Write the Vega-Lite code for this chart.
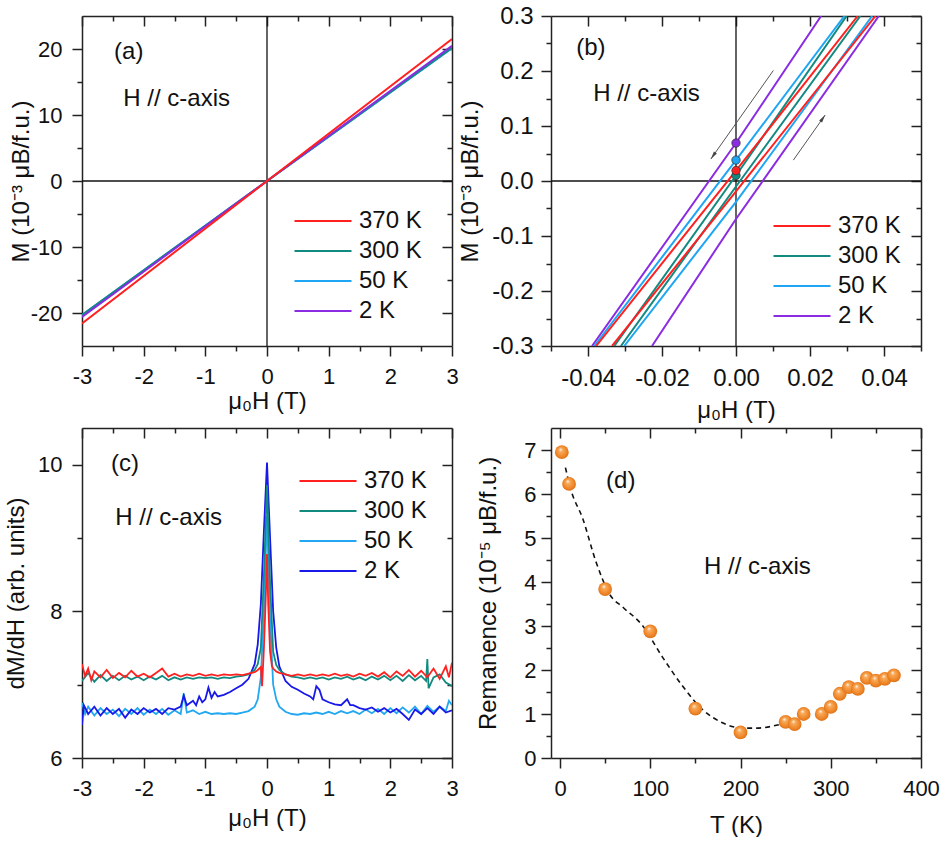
{
"$schema": "https://vega.github.io/schema/vega-lite/v6.json",
"padding": {"left": 4, "top": 4, "right": 0, "bottom": 0},
"config": {
  "font": "Liberation Sans",
  "view": {"stroke": null},
  "axis": {"labelFont": "Liberation Sans", "titleFont": "Liberation Sans", "labelFontSize": 22, "titleFontSize": 24, "titleFontWeight": "normal", "labelColor": "#111", "titleColor": "#111", "domainColor": "#222", "tickColor": "#222", "domainWidth": 1.5, "tickWidth": 1.5, "grid": false, "tickSize": 10, "labelPadding": 10, "labelFlush": false, "labelOverlap": false},
  "legend": {"symbolType": "stroke", "symbolSize": 3249, "symbolStrokeWidth": 2.2, "clipHeight": 24, "rowPadding": 6, "labelFontSize": 24, "labelFont": "Liberation Sans", "labelColor": "#111", "labelOffset": 6, "padding": 0},
  "text": {"font": "Liberation Sans", "fontSize": 24, "color": "#111"}
},
"bounds": "flush",
"columns": 2,
"spacing": {"row": 82, "column": 99},
"resolve": {"scale": {"color": "independent", "fill": "independent"}, "legend": {"color": "independent"}},
"concat": [
  {"width": 370, "height": 330,
   "layer": [
    {"data": {"values": [{}]}, "mark": {"type": "point", "opacity": 0},
     "encoding": {
      "x": {"datum": 0, "type": "quantitative", "axis": {"orient": "top", "values": [-3,-2,-1,0,1,2,3], "labels": false, "tickSize": -10, "title": null}},
      "y": {"datum": 0, "type": "quantitative", "axis": {"orient": "right", "values": [-20,-10,0,10,20], "labels": false, "tickSize": -10, "title": null}}}},
    {"data": {"values": [{}]}, "mark": {"type": "point", "opacity": 0},
     "encoding": {
      "x": {"datum": 0, "type": "quantitative", "axis": {"orient": "top", "values": [-2.5,-1.5,-0.5,0.5,1.5,2.5], "labels": false, "domain": false, "tickSize": -5, "title": null}},
      "y": {"datum": 0, "type": "quantitative", "axis": {"orient": "right", "values": [-15,-5,5,15], "labels": false, "domain": false, "tickSize": -5, "title": null}}}},
    {"data": {"values": [{}]}, "mark": {"type": "point", "opacity": 0},
     "encoding": {
      "x": {"datum": 0, "type": "quantitative", "axis": {"orient": "bottom", "values": [-2.5,-1.5,-0.5,0.5,1.5,2.5], "labels": false, "domain": false, "tickSize": 5, "title": null}},
      "y": {"datum": 0, "type": "quantitative", "axis": {"orient": "left", "values": [-15,-5,5,15], "labels": false, "domain": false, "tickSize": 5, "title": null}}}},
    {"data": {"values": [{}]}, "mark": {"type": "rule", "color": "#111", "strokeWidth": 1.3}, "encoding": {"x": {"datum": 0, "type": "quantitative", "axis": null}}},
    {"data": {"values": [{}]}, "mark": {"type": "rule", "color": "#111", "strokeWidth": 1.3}, "encoding": {"y": {"datum": 0, "type": "quantitative", "axis": null}}},
    {"data": {"values": [
      {"T": "50 K", "H": -3, "M": -20.3}, {"T": "50 K", "H": 0, "M": 0}, {"T": "50 K", "H": 3, "M": 20.1},
      {"T": "300 K", "H": -3, "M": -20.3}, {"T": "300 K", "H": 0, "M": 0}, {"T": "300 K", "H": 3, "M": 20.2},
      {"T": "2 K", "H": -3, "M": -20.6}, {"T": "2 K", "H": 0, "M": 0}, {"T": "2 K", "H": 3, "M": 20.5},
      {"T": "370 K", "H": -3, "M": -21.6}, {"T": "370 K", "H": 0, "M": 0}, {"T": "370 K", "H": 3, "M": 21.5}]},
     "mark": {"type": "line", "strokeWidth": 2, "clip": true},
     "encoding": {
      "x": {"field": "H", "type": "quantitative", "scale": {"domain": [-3, 3], "nice": false, "zero": false},
            "axis": {"orient": "bottom", "values": [-3,-2,-1,0,1,2,3], "title": "μ₀H (T)", "titlePadding": 2, "labelExpr": "replace(datum.label, '\u2212', '-')"}},
      "y": {"field": "M", "type": "quantitative", "scale": {"domain": [-25, 25], "nice": false, "zero": false},
            "axis": {"orient": "left", "values": [-20,-10,0,10,20], "title": "M (10⁻³ μB/f.u.)", "titlePadding": -3, "labelExpr": "replace(datum.label, '\u2212', '-')"}},
      "color": {"field": "T", "type": "nominal", "scale": {"domain": ["370 K", "300 K", "50 K", "2 K"], "range": ["#ff2020", "#138a80", "#1ea6f5", "#8b2be2"]},
                "legend": {"orient": "none", "legendX": 211, "legendY": 193, "title": null}}}},
    {"data": {"values": [{"x": -2.48, "y": 19.5, "label": "(a)"}, {"x": -2.33, "y": 12.4, "label": "H // c-axis"}]},
     "mark": {"type": "text", "align": "left", "baseline": "middle"},
     "encoding": {"x": {"field": "x", "type": "quantitative", "axis": null}, "y": {"field": "y", "type": "quantitative", "axis": null}, "text": {"field": "label"}}}
   ],
   "resolve": {"axis": {"x": "independent", "y": "independent"}}},
  {"width": 370, "height": 330,
   "layer": [
    {"data": {"values": [{}]}, "mark": {"type": "point", "opacity": 0},
     "encoding": {
      "x": {"datum": 0, "type": "quantitative", "axis": {"orient": "top", "values": [-0.04,-0.02,0,0.02,0.04], "labels": false, "tickSize": -10, "title": null}},
      "y": {"datum": 0, "type": "quantitative", "axis": {"orient": "right", "values": [-0.3,-0.2,-0.1,0,0.1,0.2,0.3], "labels": false, "tickSize": -10, "title": null}}}},
    {"data": {"values": [{}]}, "mark": {"type": "point", "opacity": 0},
     "encoding": {
      "x": {"datum": 0, "type": "quantitative", "axis": {"orient": "top", "values": [-0.03,-0.01,0.01,0.03], "labels": false, "domain": false, "tickSize": -5, "title": null}},
      "y": {"datum": 0, "type": "quantitative", "axis": {"orient": "right", "values": [-0.25,-0.15,-0.05,0.05,0.15,0.25], "labels": false, "domain": false, "tickSize": -5, "title": null}}}},
    {"data": {"values": [{}]}, "mark": {"type": "point", "opacity": 0},
     "encoding": {
      "x": {"datum": 0, "type": "quantitative", "axis": {"orient": "bottom", "values": [-0.05,-0.03,-0.01,0.01,0.03,0.05], "labels": false, "domain": false, "tickSize": 5, "title": null}},
      "y": {"datum": 0, "type": "quantitative", "axis": {"orient": "left", "values": [-0.25,-0.15,-0.05,0.05,0.15,0.25], "labels": false, "domain": false, "tickSize": 5, "title": null}}}},
    {"data": {"values": [{}]}, "mark": {"type": "rule", "color": "#111", "strokeWidth": 1.3}, "encoding": {"x": {"datum": 0, "type": "quantitative", "axis": null}}},
    {"data": {"values": [{}]}, "mark": {"type": "rule", "color": "#111", "strokeWidth": 1.3}, "encoding": {"y": {"datum": 0, "type": "quantitative", "axis": null}}},
    {"data": {"values": [
      {"T": "2 K", "br": "L", "H": -0.0389, "M": -0.3}, {"T": "2 K", "br": "L", "H": 0, "M": 0.069}, {"T": "2 K", "br": "L", "H": 0.023, "M": 0.3},
      {"T": "2 K", "br": "R", "H": -0.0227, "M": -0.3}, {"T": "2 K", "br": "R", "H": 0, "M": -0.069}, {"T": "2 K", "br": "R", "H": 0.0386, "M": 0.3},
      {"T": "50 K", "br": "L", "H": -0.0383, "M": -0.3}, {"T": "50 K", "br": "L", "H": 0, "M": 0.038}, {"T": "50 K", "br": "L", "H": 0.0293, "M": 0.3},
      {"T": "50 K", "br": "R", "H": -0.0302, "M": -0.3}, {"T": "50 K", "br": "R", "H": 0, "M": -0.038}, {"T": "50 K", "br": "R", "H": 0.0368, "M": 0.3},
      {"T": "300 K", "br": "L", "H": -0.0329, "M": -0.3}, {"T": "300 K", "br": "L", "H": 0, "M": 0.010}, {"T": "300 K", "br": "L", "H": 0.0299, "M": 0.3},
      {"T": "300 K", "br": "R", "H": -0.0311, "M": -0.3}, {"T": "300 K", "br": "R", "H": 0, "M": -0.010}, {"T": "300 K", "br": "R", "H": 0.0336, "M": 0.3},
      {"T": "370 K", "br": "L", "H": -0.0378, "M": -0.3}, {"T": "370 K", "br": "L", "H": 0, "M": 0.019}, {"T": "370 K", "br": "L", "H": 0.0329, "M": 0.3},
      {"T": "370 K", "br": "R", "H": -0.0335, "M": -0.3}, {"T": "370 K", "br": "R", "H": 0, "M": -0.019}, {"T": "370 K", "br": "R", "H": 0.0377, "M": 0.3}]},
     "mark": {"type": "line", "strokeWidth": 2, "clip": true},
     "encoding": {
      "x": {"field": "H", "type": "quantitative", "scale": {"domain": [-0.05, 0.05], "nice": false, "zero": false},
            "axis": {"orient": "bottom", "values": [-0.04,-0.02,0,0.02,0.04], "format": ".2f", "labelFontSize": 24, "title": "μ₀H (T)", "titlePadding": 8, "labelExpr": "replace(datum.label, '\u2212', '-')"}},
      "y": {"field": "M", "type": "quantitative", "scale": {"domain": [-0.3, 0.3], "nice": false, "zero": false},
            "axis": {"orient": "left", "values": [-0.3,-0.2,-0.1,0,0.1,0.2,0.3], "format": ".1f", "labelFontSize": 24, "labelPadding": 8, "title": "M (10⁻³ μB/f.u.)", "titlePadding": 9, "labelExpr": "replace(datum.label, '\u2212', '-')"}},
      "color": {"field": "T", "type": "nominal", "scale": {"domain": ["370 K", "300 K", "50 K", "2 K"], "range": ["#ff2020", "#138a80", "#1ea6f5", "#8b2be2"]},
                "legend": {"orient": "none", "legendX": 221, "legendY": 198, "title": null}},
      "detail": {"field": "br"}}},
    {"data": {"values": [{"a": "1", "H": 0.0101, "M": 0.201}, {"a": "1", "H": -0.0068, "M": 0.040}, {"a": "2", "H": 0.0155, "M": 0.038}, {"a": "2", "H": 0.0241, "M": 0.120}]},
     "mark": {"type": "line", "color": "#555", "strokeWidth": 1},
     "encoding": {"x": {"field": "H", "type": "quantitative", "axis": null}, "y": {"field": "M", "type": "quantitative", "axis": null}, "detail": {"field": "a"}}},
    {"data": {"values": [{"H": -0.0068, "M": 0.040}]},
     "mark": {"type": "point", "shape": "M0,0L-0.45,2L0.45,2Z", "size": 64, "filled": true, "color": "#444", "opacity": 1, "angle": 215},
     "encoding": {"x": {"field": "H", "type": "quantitative", "axis": null}, "y": {"field": "M", "type": "quantitative", "axis": null}}},
    {"data": {"values": [{"H": 0.0241, "M": 0.120}]},
     "mark": {"type": "point", "shape": "M0,0L-0.45,2L0.45,2Z", "size": 64, "filled": true, "color": "#444", "opacity": 1, "angle": 35},
     "encoding": {"x": {"field": "H", "type": "quantitative", "axis": null}, "y": {"field": "M", "type": "quantitative", "axis": null}}},
    {"data": {"values": [{"T": "300 K", "H": 0, "M": 0.010}, {"T": "370 K", "H": 0, "M": 0.019}, {"T": "50 K", "H": 0, "M": 0.038}, {"T": "2 K", "H": 0, "M": 0.069}]},
     "mark": {"type": "point", "filled": true, "size": 70, "stroke": "#333", "strokeWidth": 0.8, "opacity": 1},
     "encoding": {"x": {"field": "H", "type": "quantitative", "axis": null}, "y": {"field": "M", "type": "quantitative", "axis": null},
      "fill": {"field": "T", "type": "nominal", "scale": {"domain": ["370 K", "300 K", "50 K", "2 K"], "range": ["#ff2020", "#138a80", "#1ea6f5", "#8b2be2"]}, "legend": null}}},
    {"data": {"values": [{"x": -0.0432, "y": 0.241, "label": "(b)"}, {"x": -0.0386, "y": 0.158, "label": "H // c-axis"}]},
     "mark": {"type": "text", "align": "left", "baseline": "middle"},
     "encoding": {"x": {"field": "x", "type": "quantitative", "axis": null}, "y": {"field": "y", "type": "quantitative", "axis": null}, "text": {"field": "label"}}}
   ],
   "resolve": {"axis": {"x": "independent", "y": "independent"}}},
  {"width": 370, "height": 330,
   "layer": [
    {"data": {"values": [{}]}, "mark": {"type": "point", "opacity": 0},
     "encoding": {
      "x": {"datum": 0, "type": "quantitative", "axis": {"orient": "top", "values": [-3,-2,-1,0,1,2,3], "labels": false, "tickSize": -10, "title": null}},
      "y": {"datum": 6, "type": "quantitative", "axis": {"orient": "right", "values": [6,8,10], "labels": false, "tickSize": -10, "title": null}}}},
    {"data": {"values": [{}]}, "mark": {"type": "point", "opacity": 0},
     "encoding": {
      "x": {"datum": 0, "type": "quantitative", "axis": {"orient": "top", "values": [-2.5,-1.5,-0.5,0.5,1.5,2.5], "labels": false, "domain": false, "tickSize": -5, "title": null}},
      "y": {"datum": 6, "type": "quantitative", "axis": {"orient": "right", "values": [7,9], "labels": false, "domain": false, "tickSize": -5, "title": null}}}},
    {"data": {"values": [{}]}, "mark": {"type": "point", "opacity": 0},
     "encoding": {
      "x": {"datum": 0, "type": "quantitative", "axis": {"orient": "bottom", "values": [-2.5,-1.5,-0.5,0.5,1.5,2.5], "labels": false, "domain": false, "tickSize": 5, "title": null}},
      "y": {"datum": 6, "type": "quantitative", "axis": {"orient": "left", "values": [7,9], "labels": false, "domain": false, "tickSize": 5, "title": null}}}},
    {"data": {"values": [
{"T":"50 K","H":-3,"v":6.75},{"T":"50 K","H":-2.95,"v":6.6},{"T":"50 K","H":-2.9,"v":6.7},{"T":"50 K","H":-2.8,"v":6.58},{"T":"50 K","H":-2.7,"v":6.68},{"T":"50 K","H":-2.6,"v":6.6},{"T":"50 K","H":-2.5,"v":6.66},{"T":"50 K","H":-2.4,"v":6.57},{"T":"50 K","H":-2.3,"v":6.67},{"T":"50 K","H":-2.2,"v":6.6},{"T":"50 K","H":-2.1,"v":6.68},{"T":"50 K","H":-2,"v":6.59},{"T":"50 K","H":-1.9,"v":6.66},{"T":"50 K","H":-1.8,"v":6.6},{"T":"50 K","H":-1.7,"v":6.67},{"T":"50 K","H":-1.6,"v":6.59},{"T":"50 K","H":-1.5,"v":6.65},{"T":"50 K","H":-1.4,"v":6.6},{"T":"50 K","H":-1.35,"v":6.88},{"T":"50 K","H":-1.3,"v":6.62},{"T":"50 K","H":-1.2,"v":6.65},{"T":"50 K","H":-1.1,"v":6.6},{"T":"50 K","H":-1,"v":6.63},{"T":"50 K","H":-0.9,"v":6.6},{"T":"50 K","H":-0.8,"v":6.61},{"T":"50 K","H":-0.7,"v":6.6},{"T":"50 K","H":-0.6,"v":6.61},{"T":"50 K","H":-0.5,"v":6.6},{"T":"50 K","H":-0.4,"v":6.62},{"T":"50 K","H":-0.3,"v":6.64},{"T":"50 K","H":-0.2,"v":6.7},{"T":"50 K","H":-0.15,"v":6.8},{"T":"50 K","H":-0.1,"v":7.1},{"T":"50 K","H":-0.05,"v":8.0},{"T":"50 K","H":0,"v":9.3},{"T":"50 K","H":0.05,"v":7.9},{"T":"50 K","H":0.1,"v":7.0},{"T":"50 K","H":0.15,"v":6.8},{"T":"50 K","H":0.2,"v":6.7},{"T":"50 K","H":0.3,"v":6.63},{"T":"50 K","H":0.4,"v":6.6},{"T":"50 K","H":0.5,"v":6.59},{"T":"50 K","H":0.6,"v":6.61},{"T":"50 K","H":0.7,"v":6.6},{"T":"50 K","H":0.8,"v":6.62},{"T":"50 K","H":0.9,"v":6.6},{"T":"50 K","H":1,"v":6.63},{"T":"50 K","H":1.1,"v":6.6},{"T":"50 K","H":1.2,"v":6.64},{"T":"50 K","H":1.3,"v":6.61},{"T":"50 K","H":1.4,"v":6.64},{"T":"50 K","H":1.5,"v":6.6},{"T":"50 K","H":1.6,"v":6.66},{"T":"50 K","H":1.7,"v":6.61},{"T":"50 K","H":1.8,"v":6.67},{"T":"50 K","H":1.9,"v":6.6},{"T":"50 K","H":2,"v":6.68},{"T":"50 K","H":2.1,"v":6.61},{"T":"50 K","H":2.2,"v":6.69},{"T":"50 K","H":2.3,"v":6.62},{"T":"50 K","H":2.4,"v":6.7},{"T":"50 K","H":2.5,"v":6.6},{"T":"50 K","H":2.6,"v":6.71},{"T":"50 K","H":2.7,"v":6.63},{"T":"50 K","H":2.8,"v":6.7},{"T":"50 K","H":2.9,"v":6.64},{"T":"50 K","H":2.95,"v":6.78},{"T":"50 K","H":3,"v":6.72},
{"T":"2 K","H":-3,"v":6.45},{"T":"2 K","H":-2.97,"v":6.72},{"T":"2 K","H":-2.9,"v":6.6},{"T":"2 K","H":-2.8,"v":6.7},{"T":"2 K","H":-2.7,"v":6.58},{"T":"2 K","H":-2.6,"v":6.68},{"T":"2 K","H":-2.5,"v":6.6},{"T":"2 K","H":-2.4,"v":6.67},{"T":"2 K","H":-2.3,"v":6.55},{"T":"2 K","H":-2.2,"v":6.66},{"T":"2 K","H":-2.1,"v":6.6},{"T":"2 K","H":-2,"v":6.68},{"T":"2 K","H":-1.9,"v":6.62},{"T":"2 K","H":-1.8,"v":6.67},{"T":"2 K","H":-1.7,"v":6.6},{"T":"2 K","H":-1.6,"v":6.68},{"T":"2 K","H":-1.5,"v":6.66},{"T":"2 K","H":-1.4,"v":6.7},{"T":"2 K","H":-1.35,"v":6.85},{"T":"2 K","H":-1.3,"v":6.72},{"T":"2 K","H":-1.2,"v":6.78},{"T":"2 K","H":-1.15,"v":6.72},{"T":"2 K","H":-1.1,"v":6.84},{"T":"2 K","H":-1.05,"v":6.76},{"T":"2 K","H":-1,"v":6.8},{"T":"2 K","H":-0.95,"v":6.96},{"T":"2 K","H":-0.9,"v":6.82},{"T":"2 K","H":-0.85,"v":6.9},{"T":"2 K","H":-0.8,"v":6.84},{"T":"2 K","H":-0.7,"v":6.86},{"T":"2 K","H":-0.6,"v":6.9},{"T":"2 K","H":-0.5,"v":6.95},{"T":"2 K","H":-0.4,"v":7.0},{"T":"2 K","H":-0.3,"v":7.08},{"T":"2 K","H":-0.2,"v":7.28},{"T":"2 K","H":-0.15,"v":7.55},{"T":"2 K","H":-0.1,"v":8.1},{"T":"2 K","H":-0.05,"v":9.1},{"T":"2 K","H":0,"v":10.03},{"T":"2 K","H":0.05,"v":9.0},{"T":"2 K","H":0.1,"v":8.0},{"T":"2 K","H":0.15,"v":7.5},{"T":"2 K","H":0.2,"v":7.25},{"T":"2 K","H":0.3,"v":7.05},{"T":"2 K","H":0.4,"v":6.97},{"T":"2 K","H":0.5,"v":6.93},{"T":"2 K","H":0.6,"v":6.88},{"T":"2 K","H":0.7,"v":6.84},{"T":"2 K","H":0.75,"v":6.8},{"T":"2 K","H":0.8,"v":6.98},{"T":"2 K","H":0.85,"v":6.93},{"T":"2 K","H":0.9,"v":6.8},{"T":"2 K","H":1,"v":6.76},{"T":"2 K","H":1.1,"v":6.73},{"T":"2 K","H":1.2,"v":6.72},{"T":"2 K","H":1.3,"v":6.8},{"T":"2 K","H":1.35,"v":6.72},{"T":"2 K","H":1.4,"v":6.72},{"T":"2 K","H":1.5,"v":6.68},{"T":"2 K","H":1.6,"v":6.66},{"T":"2 K","H":1.7,"v":6.69},{"T":"2 K","H":1.8,"v":6.63},{"T":"2 K","H":1.9,"v":6.68},{"T":"2 K","H":2,"v":6.62},{"T":"2 K","H":2.1,"v":6.67},{"T":"2 K","H":2.2,"v":6.6},{"T":"2 K","H":2.3,"v":6.52},{"T":"2 K","H":2.4,"v":6.66},{"T":"2 K","H":2.5,"v":6.6},{"T":"2 K","H":2.6,"v":6.68},{"T":"2 K","H":2.7,"v":6.6},{"T":"2 K","H":2.8,"v":6.7},{"T":"2 K","H":2.9,"v":6.62},{"T":"2 K","H":3,"v":6.65},
{"T":"300 K","H":-3,"v":7.05},{"T":"300 K","H":-2.9,"v":7.16},{"T":"300 K","H":-2.8,"v":7.04},{"T":"300 K","H":-2.7,"v":7.13},{"T":"300 K","H":-2.6,"v":7.05},{"T":"300 K","H":-2.5,"v":7.12},{"T":"300 K","H":-2.4,"v":7.06},{"T":"300 K","H":-2.3,"v":7.12},{"T":"300 K","H":-2.2,"v":7.07},{"T":"300 K","H":-2.1,"v":7.11},{"T":"300 K","H":-2,"v":7.06},{"T":"300 K","H":-1.9,"v":7.11},{"T":"300 K","H":-1.8,"v":7.07},{"T":"300 K","H":-1.7,"v":7.12},{"T":"300 K","H":-1.6,"v":7.06},{"T":"300 K","H":-1.5,"v":7.1},{"T":"300 K","H":-1.4,"v":7.07},{"T":"300 K","H":-1.3,"v":7.1},{"T":"300 K","H":-1.2,"v":7.08},{"T":"300 K","H":-1.1,"v":7.1},{"T":"300 K","H":-1,"v":7.09},{"T":"300 K","H":-0.9,"v":7.1},{"T":"300 K","H":-0.8,"v":7.08},{"T":"300 K","H":-0.7,"v":7.1},{"T":"300 K","H":-0.6,"v":7.09},{"T":"300 K","H":-0.5,"v":7.11},{"T":"300 K","H":-0.4,"v":7.12},{"T":"300 K","H":-0.3,"v":7.14},{"T":"300 K","H":-0.2,"v":7.2},{"T":"300 K","H":-0.15,"v":7.28},{"T":"300 K","H":-0.1,"v":7.5},{"T":"300 K","H":-0.05,"v":8.5},{"T":"300 K","H":0,"v":9.72},{"T":"300 K","H":0.05,"v":8.4},{"T":"300 K","H":0.1,"v":7.45},{"T":"300 K","H":0.15,"v":7.27},{"T":"300 K","H":0.2,"v":7.2},{"T":"300 K","H":0.3,"v":7.14},{"T":"300 K","H":0.4,"v":7.11},{"T":"300 K","H":0.5,"v":7.1},{"T":"300 K","H":0.6,"v":7.08},{"T":"300 K","H":0.7,"v":7.1},{"T":"300 K","H":0.8,"v":7.08},{"T":"300 K","H":0.9,"v":7.1},{"T":"300 K","H":1,"v":7.07},{"T":"300 K","H":1.1,"v":7.1},{"T":"300 K","H":1.2,"v":7.08},{"T":"300 K","H":1.3,"v":7.11},{"T":"300 K","H":1.4,"v":7.07},{"T":"300 K","H":1.5,"v":7.1},{"T":"300 K","H":1.6,"v":7.06},{"T":"300 K","H":1.7,"v":7.11},{"T":"300 K","H":1.8,"v":7.07},{"T":"300 K","H":1.9,"v":7.12},{"T":"300 K","H":2,"v":7.06},{"T":"300 K","H":2.1,"v":7.12},{"T":"300 K","H":2.2,"v":7.05},{"T":"300 K","H":2.3,"v":7.13},{"T":"300 K","H":2.4,"v":7.06},{"T":"300 K","H":2.5,"v":7.12},{"T":"300 K","H":2.58,"v":7.05},{"T":"300 K","H":2.6,"v":7.35},{"T":"300 K","H":2.62,"v":6.95},{"T":"300 K","H":2.7,"v":7.1},{"T":"300 K","H":2.8,"v":7.14},{"T":"300 K","H":2.9,"v":7.03},{"T":"300 K","H":3,"v":6.98},
{"T":"370 K","H":-3,"v":7.28},{"T":"370 K","H":-2.95,"v":7.12},{"T":"370 K","H":-2.9,"v":7.22},{"T":"370 K","H":-2.85,"v":7.06},{"T":"370 K","H":-2.8,"v":7.18},{"T":"370 K","H":-2.7,"v":7.1},{"T":"370 K","H":-2.6,"v":7.2},{"T":"370 K","H":-2.5,"v":7.09},{"T":"370 K","H":-2.4,"v":7.16},{"T":"370 K","H":-2.3,"v":7.1},{"T":"370 K","H":-2.2,"v":7.19},{"T":"370 K","H":-2.1,"v":7.11},{"T":"370 K","H":-2,"v":7.15},{"T":"370 K","H":-1.9,"v":7.1},{"T":"370 K","H":-1.8,"v":7.16},{"T":"370 K","H":-1.7,"v":7.22},{"T":"370 K","H":-1.6,"v":7.11},{"T":"370 K","H":-1.5,"v":7.15},{"T":"370 K","H":-1.4,"v":7.11},{"T":"370 K","H":-1.3,"v":7.14},{"T":"370 K","H":-1.2,"v":7.12},{"T":"370 K","H":-1.1,"v":7.15},{"T":"370 K","H":-1,"v":7.12},{"T":"370 K","H":-0.9,"v":7.14},{"T":"370 K","H":-0.8,"v":7.12},{"T":"370 K","H":-0.7,"v":7.14},{"T":"370 K","H":-0.6,"v":7.13},{"T":"370 K","H":-0.5,"v":7.14},{"T":"370 K","H":-0.4,"v":7.13},{"T":"370 K","H":-0.3,"v":7.15},{"T":"370 K","H":-0.2,"v":7.17},{"T":"370 K","H":-0.15,"v":7.2},{"T":"370 K","H":-0.1,"v":7.24},{"T":"370 K","H":-0.08,"v":6.98},{"T":"370 K","H":-0.05,"v":7.5},{"T":"370 K","H":-0.02,"v":8.2},{"T":"370 K","H":0,"v":8.78},{"T":"370 K","H":0.02,"v":8.1},{"T":"370 K","H":0.05,"v":7.45},{"T":"370 K","H":0.08,"v":7.25},{"T":"370 K","H":0.1,"v":7.22},{"T":"370 K","H":0.15,"v":7.18},{"T":"370 K","H":0.2,"v":7.16},{"T":"370 K","H":0.3,"v":7.14},{"T":"370 K","H":0.4,"v":7.12},{"T":"370 K","H":0.5,"v":7.14},{"T":"370 K","H":0.6,"v":7.12},{"T":"370 K","H":0.7,"v":7.14},{"T":"370 K","H":0.8,"v":7.12},{"T":"370 K","H":0.9,"v":7.14},{"T":"370 K","H":1,"v":7.12},{"T":"370 K","H":1.1,"v":7.15},{"T":"370 K","H":1.2,"v":7.12},{"T":"370 K","H":1.3,"v":7.14},{"T":"370 K","H":1.4,"v":7.11},{"T":"370 K","H":1.5,"v":7.15},{"T":"370 K","H":1.6,"v":7.12},{"T":"370 K","H":1.7,"v":7.16},{"T":"370 K","H":1.8,"v":7.11},{"T":"370 K","H":1.9,"v":7.17},{"T":"370 K","H":2,"v":7.1},{"T":"370 K","H":2.1,"v":7.18},{"T":"370 K","H":2.2,"v":7.12},{"T":"370 K","H":2.3,"v":7.2},{"T":"370 K","H":2.4,"v":7.11},{"T":"370 K","H":2.5,"v":7.19},{"T":"370 K","H":2.6,"v":7.1},{"T":"370 K","H":2.7,"v":7.22},{"T":"370 K","H":2.8,"v":7.08},{"T":"370 K","H":2.9,"v":7.25},{"T":"370 K","H":2.95,"v":7.1},{"T":"370 K","H":3,"v":7.3}
    ]},
     "mark": {"type": "line", "strokeWidth": 1.8, "clip": true},
     "encoding": {
      "x": {"field": "H", "type": "quantitative", "scale": {"domain": [-3, 3], "nice": false, "zero": false},
            "axis": {"orient": "bottom", "values": [-3,-2,-1,0,1,2,3], "title": "μ₀H (T)", "titlePadding": 7, "labelExpr": "replace(datum.label, '\u2212', '-')"}},
      "y": {"field": "v", "type": "quantitative", "scale": {"domain": [6, 10.5], "nice": false, "zero": false},
            "axis": {"orient": "left", "values": [6,8,10], "title": "dM/dH (arb. units)", "titlePadding": 9}},
      "color": {"field": "T", "type": "nominal", "scale": {"domain": ["370 K", "300 K", "50 K", "2 K"], "range": ["#ff2020", "#138a80", "#22a8f0", "#1818e8"]},
                "legend": {"orient": "none", "legendX": 216, "legendY": 41, "title": null}}}},
    {"data": {"values": [{"x": -2.53, "y": 10.01, "label": "(c)"}, {"x": -2.46, "y": 9.27, "label": "H // c-axis"}]},
     "mark": {"type": "text", "align": "left", "baseline": "middle"},
     "encoding": {"x": {"field": "x", "type": "quantitative", "axis": null}, "y": {"field": "y", "type": "quantitative", "axis": null}, "text": {"field": "label"}}}
   ],
   "resolve": {"axis": {"x": "independent", "y": "independent"}}},
  {"width": 370, "height": 330,
   "layer": [
    {"data": {"values": [{}]}, "mark": {"type": "point", "opacity": 0},
     "encoding": {
      "x": {"datum": 0, "type": "quantitative", "axis": {"orient": "top", "values": [0,100,200,300,400], "labels": false, "tickSize": -10, "title": null}},
      "y": {"datum": 0, "type": "quantitative", "axis": {"orient": "right", "values": [0,1,2,3,4,5,6,7], "labels": false, "tickSize": -10, "title": null}}}},
    {"data": {"values": [{}]}, "mark": {"type": "point", "opacity": 0},
     "encoding": {
      "x": {"datum": 0, "type": "quantitative", "axis": {"orient": "top", "values": [50,150,250,350], "labels": false, "domain": false, "tickSize": -5, "title": null}},
      "y": {"datum": 0, "type": "quantitative", "axis": {"orient": "right", "values": [0.5,1.5,2.5,3.5,4.5,5.5,6.5], "labels": false, "domain": false, "tickSize": -5, "title": null}}}},
    {"data": {"values": [{}]}, "mark": {"type": "point", "opacity": 0},
     "encoding": {
      "x": {"datum": 0, "type": "quantitative", "axis": {"orient": "bottom", "values": [50,150,250,350], "labels": false, "domain": false, "tickSize": 5, "title": null}},
      "y": {"datum": 0, "type": "quantitative", "axis": {"orient": "left", "values": [0.5,1.5,2.5,3.5,4.5,5.5,6.5], "labels": false, "domain": false, "tickSize": 5, "title": null}}}},
    {"data": {"values": [{"T": 6, "R": 6.6}, {"T": 12, "R": 6.1}, {"T": 25, "R": 5.45}, {"T": 40, "R": 4.45}, {"T": 55, "R": 3.72}, {"T": 70, "R": 3.42}, {"T": 91, "R": 3.02}, {"T": 113, "R": 2.31}, {"T": 136, "R": 1.63}, {"T": 158, "R": 1.1}, {"T": 180, "R": 0.8}, {"T": 202, "R": 0.68}, {"T": 217, "R": 0.68}, {"T": 243, "R": 0.76}, {"T": 250, "R": 0.8}]},
     "mark": {"type": "line", "color": "#111", "strokeWidth": 1.6, "strokeDash": [5, 4], "interpolate": "monotone"},
     "encoding": {
      "x": {"field": "T", "type": "quantitative", "scale": {"domain": [-10, 400], "nice": false, "zero": false},
            "axis": {"orient": "bottom", "values": [0,100,200,300,400], "title": "T (K)", "titlePadding": 14}},
      "y": {"field": "R", "type": "quantitative", "scale": {"domain": [0, 7.5], "nice": false, "zero": false},
            "axis": {"orient": "left", "values": [0,1,2,3,4,5,6,7], "labelPadding": 5, "title": "Remanence (10⁻⁵ μB/f.u.)", "titlePadding": 23}}}},
    {"data": {"values": [{"T": 2, "R": 6.95}, {"T": 10, "R": 6.23}, {"T": 50, "R": 3.84}, {"T": 100, "R": 2.88}, {"T": 150, "R": 1.12}, {"T": 200, "R": 0.58}, {"T": 250, "R": 0.82}, {"T": 260, "R": 0.77}, {"T": 270, "R": 1.0}, {"T": 290, "R": 1.0}, {"T": 300, "R": 1.16}, {"T": 310, "R": 1.46}, {"T": 320, "R": 1.61}, {"T": 330, "R": 1.57}, {"T": 340, "R": 1.82}, {"T": 350, "R": 1.76}, {"T": 360, "R": 1.8}, {"T": 370, "R": 1.88}]},
     "mark": {"type": "point", "filled": true, "size": 190, "opacity": 1, "strokeWidth": 0,
              "fill": {"gradient": "radial", "x1": 0.4, "y1": 0.3, "r1": 0, "x2": 0.5, "y2": 0.5, "r2": 0.55,
                       "stops": [{"offset": 0, "color": "#ffffff"}, {"offset": 0.25, "color": "#f8aa5a"}, {"offset": 0.75, "color": "#ee8324"}, {"offset": 1, "color": "#d06a12"}]}},
     "encoding": {"x": {"field": "T", "type": "quantitative", "axis": null}, "y": {"field": "R", "type": "quantitative", "axis": null}}},
    {"data": {"values": [{"x": 51, "y": 6.29, "label": "(d)"}, {"x": 159.6, "y": 4.35, "label": "H // c-axis"}]},
     "mark": {"type": "text", "align": "left", "baseline": "middle"},
     "encoding": {"x": {"field": "x", "type": "quantitative", "axis": null}, "y": {"field": "y", "type": "quantitative", "axis": null}, "text": {"field": "label"}}}
   ],
   "resolve": {"axis": {"x": "independent", "y": "independent"}}}
]
}
